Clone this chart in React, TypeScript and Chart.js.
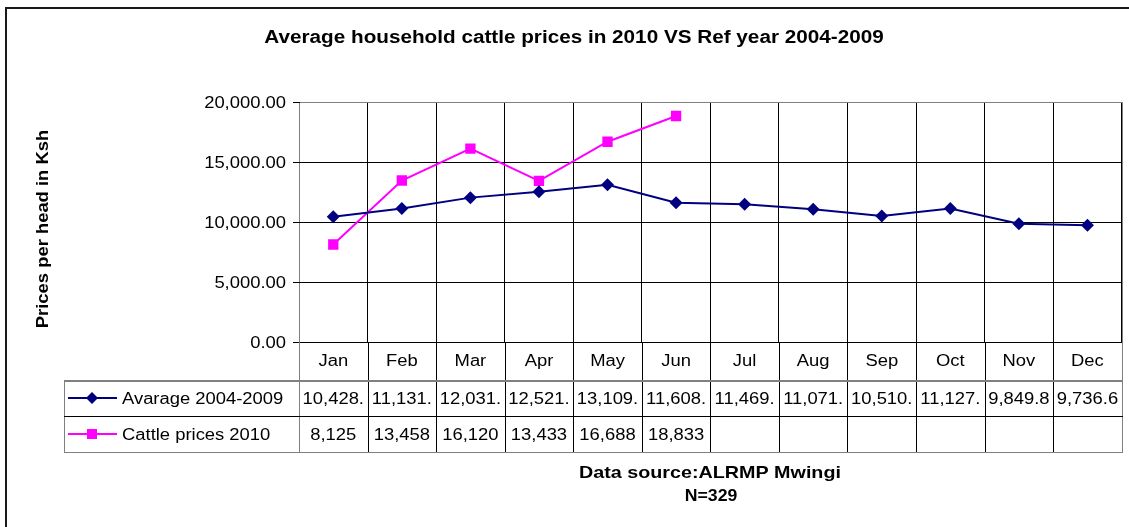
import React, { useEffect, useRef } from "react";
import { Chart, registerables } from "chart.js";

Chart.register(...registerables);

const W = 1129;
const H = 527;

const months = ["Jan", "Feb", "Mar", "Apr", "May", "Jun", "Jul", "Aug", "Sep", "Oct", "Nov", "Dec"];
const avgSeries = [10428, 11131, 12031, 12521, 13109, 11608, 11469, 11071, 10510, 11127, 9849.8, 9736.6];
const cattle2010 = [8125, 13458, 16120, 13433, 16688, 18833, null, null, null, null, null, null];
const avgTableLabels = ["10,428.", "11,131.", "12,031.", "12,521.", "13,109.", "11,608.", "11,469.", "11,071.", "10,510.", "11,127.", "9,849.8", "9,736.6"];
const cattleTableLabels = ["8,125", "13,458", "16,120", "13,433", "16,688", "18,833", "", "", "", "", "", ""];
const yTickValues = [0, 5000, 10000, 15000, 20000];
const yTickLabels = ["0.00", "5,000.00", "10,000.00", "15,000.00", "20,000.00"];
const seriesNames = ["Avarage 2004-2009", "Cattle prices 2010"];
const seriesColors = ["#000080", "#FF00FF"];
const chartTitle = "Average household cattle prices in 2010 VS Ref year 2004-2009";
const yAxisTitle = "Prices per head in Ksh";
const footerLines = ["Data source:ALRMP Mwingi", "N=329"];

const FONT = "'Liberation Sans', Arial, sans-serif";
const STRETCH = 1.15;

function txt(
  ctx: CanvasRenderingContext2D,
  s: string,
  x: number,
  y: number,
  size: number,
  bold: boolean,
  align: CanvasTextAlign,
  sx: number = STRETCH,
  rot: number = 0
) {
  ctx.save();
  ctx.translate(x, y);
  if (rot) ctx.rotate(rot);
  ctx.scale(sx, 1);
  ctx.font = `${bold ? "bold " : ""}${size}px ${FONT}`;
  ctx.textAlign = align;
  ctx.textBaseline = "alphabetic";
  ctx.fillStyle = "#000";
  ctx.fillText(s, 0, 0);
  ctx.restore();
}

function hLine(ctx: CanvasRenderingContext2D, x1: number, x2: number, y: number, color: string) {
  ctx.fillStyle = color;
  ctx.fillRect(Math.round(x1), Math.round(y), Math.round(x2 - x1) + 1, 1);
}
function vLine(ctx: CanvasRenderingContext2D, x: number, y1: number, y2: number, color: string) {
  ctx.fillStyle = color;
  ctx.fillRect(Math.round(x), Math.round(y1), 1, Math.round(y2 - y1) + 1);
}

const ROW_MONTH_BOTTOM = 380;
const ROW1_BOTTOM = 416;
const ROW2_BOTTOM = 452;
const TABLE_LEFT = 64;
const GRAY = "#808080";

const tablePlugin = {
  id: "excelTable",
  beforeDatasetsDraw(chart: any) {
    const ctx = chart.ctx as CanvasRenderingContext2D;
    const a = chart.chartArea;
    hLine(ctx, a.left, a.right, a.top, GRAY);
    vLine(ctx, a.right, a.top, a.bottom, GRAY);
    vLine(ctx, a.left, a.top, a.bottom, GRAY);
    hLine(ctx, a.left, a.right, a.bottom, "#000");
  },
  afterDraw(chart: any) {
    const ctx = chart.ctx as CanvasRenderingContext2D;
    const a = chart.chartArea;
    const xs = chart.scales.x;
    const ys = chart.scales.y;
    ctx.save();

    // outer chart border
    ctx.fillStyle = "#1a1a1a";
    ctx.fillRect(5, 7, W, 2);
    ctx.fillRect(5, 7, 2, H);

    // title
    txt(ctx, chartTitle, 574, 43, 18, true, "center");
    // y axis title
    txt(ctx, yAxisTitle, 48, 229, 16, true, "center", STRETCH, -Math.PI / 2);

    // y tick labels + tick marks
    yTickValues.forEach((v, i) => {
      const y = ys.getPixelForValue(v);
      txt(ctx, yTickLabels[i], 286, y + 5.7, 16, false, "right");
      hLine(ctx, a.left - 6, a.left, y, "#000");
    });

    const colW = (a.right - a.left) / months.length;

    // table lines
    for (let i = 0; i <= months.length; i++) {
      const x = a.left + i * colW;
      const col = i === 0 || i === months.length ? GRAY : "#000";
      vLine(ctx, x, a.bottom, ROW2_BOTTOM, col);
    }
    vLine(ctx, a.right, a.bottom, ROW2_BOTTOM, GRAY);
    vLine(ctx, TABLE_LEFT, ROW_MONTH_BOTTOM, ROW2_BOTTOM, GRAY);
    hLine(ctx, TABLE_LEFT, a.right, ROW_MONTH_BOTTOM, GRAY);
    hLine(ctx, TABLE_LEFT, a.right, ROW_MONTH_BOTTOM + 1, GRAY);
    hLine(ctx, TABLE_LEFT, a.right, ROW1_BOTTOM, "#000");
    hLine(ctx, TABLE_LEFT, a.right, ROW2_BOTTOM, GRAY);

    // month labels and values
    months.forEach((m, i) => {
      const cx = xs.getPixelForValue(i);
      txt(ctx, m, cx, 366, 16, false, "center");
      txt(ctx, avgTableLabels[i], cx, 404, 16, false, "center");
      if (cattleTableLabels[i]) txt(ctx, cattleTableLabels[i], cx, 440, 16, false, "center");
    });

    // legend keys
    const rows = [398, 434];
    rows.forEach((ry, k) => {
      ctx.strokeStyle = seriesColors[k];
      ctx.lineWidth = 2;
      ctx.beginPath();
      ctx.moveTo(68, ry);
      ctx.lineTo(117, ry);
      ctx.stroke();
      ctx.fillStyle = seriesColors[k];
      if (k === 0) {
        ctx.beginPath();
        ctx.moveTo(92, ry - 6);
        ctx.lineTo(98, ry);
        ctx.lineTo(92, ry + 6);
        ctx.lineTo(86, ry);
        ctx.closePath();
        ctx.fill();
      } else {
        ctx.fillRect(87, ry - 5, 10, 10);
      }
      txt(ctx, seriesNames[k], 122, ry + 6, 16, false, "left");
    });

    // footer
    txt(ctx, footerLines[0], 710, 478, 17, true, "center", 1.16);
    txt(ctx, footerLines[1], 711, 501, 17, true, "center", 1.04);

    ctx.restore();
  },
};

export default function App() {
  const ref = useRef<HTMLCanvasElement | null>(null);

  useEffect(() => {
    document.body.style.margin = "0";
    const canvas = ref.current;
    if (!canvas) return;
    const chart = new Chart(canvas, {
      type: "line",
      data: {
        labels: months,
        datasets: [
          {
            label: seriesNames[0],
            data: avgSeries,
            borderColor: seriesColors[0],
            backgroundColor: seriesColors[0],
            borderWidth: 2,
            pointStyle: "rectRot",
            pointRadius: 6.5,
            pointBorderWidth: 0,
            tension: 0,
          },
          {
            label: seriesNames[1],
            data: cattle2010,
            borderColor: seriesColors[1],
            backgroundColor: seriesColors[1],
            borderWidth: 2,
            pointStyle: "rect",
            pointRadius: 7.3,
            pointBorderWidth: 0,
            tension: 0,
            spanGaps: false,
          },
        ],
      },
      options: {
        responsive: false,
        animation: false,
        devicePixelRatio: 1,
        layout: { padding: { left: 299, top: 102, right: W - 1122, bottom: H - 342 } },
        plugins: {
          legend: { display: false },
          title: { display: false },
          tooltip: { enabled: false },
        },
        scales: {
          x: {
            type: "category",
            offset: true,
            grid: { offset: true, color: "#000", lineWidth: 1, drawTicks: false },
            border: { display: false },
            ticks: { display: false },
          },
          y: {
            min: 0,
            max: 20000,
            grid: { color: "#000", lineWidth: 1, drawTicks: false },
            border: { display: false },
            ticks: { display: false, stepSize: 5000 },
          },
        },
      },
      plugins: [tablePlugin],
    });
    return () => chart.destroy();
  }, []);

  return (
    <div style={{ width: W, height: H, background: "#fff" }}>
      <canvas ref={ref} width={W} height={H} style={{ display: "block" }} />
    </div>
  );
}
